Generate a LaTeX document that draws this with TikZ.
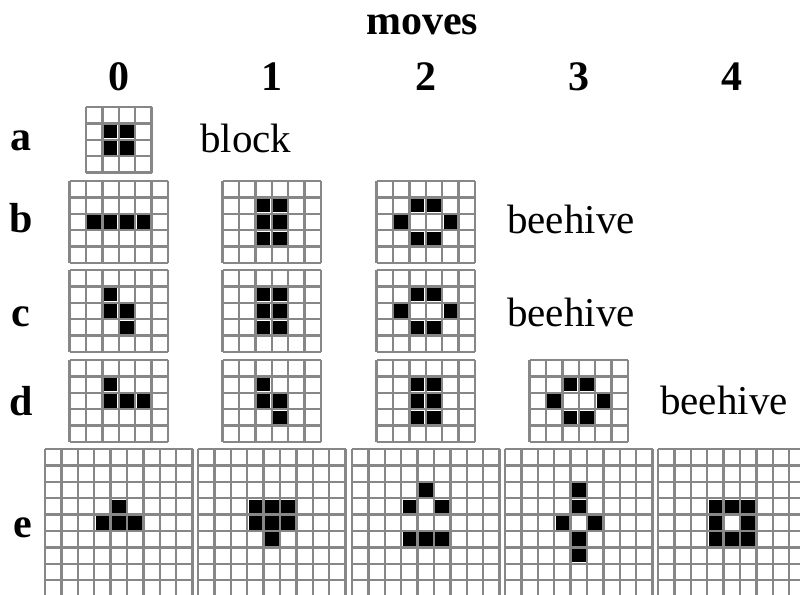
\documentclass[tikz,border=0pt]{standalone}
\usepackage{fontspec}
\setmainfont{Liberation Serif}
\usetikzlibrary{positioning}

\definecolor{gridgray}{RGB}{135,135,135}
\newcommand{\cellsz}{16.4}
% \lifegrid{centre x}{top y}{columns}{rows}{live cells col/row}
\newcommand{\lifegrid}[5]{%
  \pgfmathsetmacro{\gx}{#1-#3*\cellsz/2}
  \foreach \i in {0,...,#3}
    \draw[gridline] (\gx+\i*\cellsz,#2) -- ++(0,#4*\cellsz);
  \foreach \j in {0,...,#4}
    \draw[gridline] (\gx,#2+\j*\cellsz) -- ++(#3*\cellsz,0);
  \foreach \cx/\ry in {#5}
    \fill[cellfill] (\gx+\cx*\cellsz+1.4,#2+\ry*\cellsz+1.4) rectangle ++(\cellsz-2.8,\cellsz-2.8);
}

\begin{document}
\begin{tikzpicture}[x=1pt, y=-1pt,
    gridline/.style={draw=gridgray, line width=2.3pt},
    cellfill/.style={fill=black},
    head/.style={font=\fontsize{42}{42}\selectfont\bfseries, anchor=base, inner sep=0pt},
    patname/.style={font=\fontsize{41}{41}\selectfont, anchor=base west, inner sep=0pt}]

    \useasboundingbox (0,0) rectangle (800,594);
    \clip (0,0) rectangle (800,594);
    \fill[white] (0,0) rectangle (800,594);

    % headings
    \node[head] (moves) at (422,35) {moves};
    \node[head] (m0) at (118.8,90) {0};
    \node[head] (m1) at (271.8,90) {1};
    \node[head] (m2) at (425.8,90) {2};
    \node[head] (m3) at (578.8,90) {3};
    \node[head] (m4) at (731.8,90) {4};

    \node[head] (rowa) at (21,150) {a};
    \node[head] (rowb) at (21,232) {b};
    \node[head] (rowc) at (21,326) {c};
    \node[head] (rowd) at (21,415) {d};
    \node[head] (rowe) at (23,537) {e};

    % row a
    \lifegrid{118.8}{107}{4}{4}{1/1,2/1,1/2,2/2}
    \node[patname] (blk) at (200,152) {block};

    % row b
    \lifegrid{118.8}{181}{6}{5}{1/2,2/2,3/2,4/2}
    \lifegrid{271.8}{181}{6}{5}{2/1,3/1,2/2,3/2,2/3,3/3}
    \lifegrid{425.8}{181}{6}{5}{2/1,3/1,1/2,4/2,2/3,3/3}
    \node[patname] (hiveb) at (507,233) {beehive};

    % row c
    \lifegrid{118.8}{270}{6}{5}{2/1,2/2,3/2,3/3}
    \lifegrid{271.8}{270}{6}{5}{2/1,3/1,2/2,3/2,2/3,3/3}
    \lifegrid{425.8}{270}{6}{5}{2/1,3/1,1/2,4/2,2/3,3/3}
    \node[patname] (hivec) at (507,326) {beehive};

    % row d
    \lifegrid{118.8}{360}{6}{5}{2/1,2/2,3/2,4/2}
    \lifegrid{271.8}{360}{6}{5}{2/1,2/2,3/2,3/3}
    \lifegrid{425.8}{360}{6}{5}{2/1,3/1,2/2,3/2,2/3,3/3}
    \lifegrid{578.8}{360}{6}{5}{2/1,3/1,1/2,4/2,2/3,3/3}
    \node[patname] (hived) at (660,414) {beehive};

    % row e
    \lifegrid{118.8}{449}{9}{9}{4/3,3/4,4/4,5/4}
    \lifegrid{271.8}{449}{9}{9}{3/3,4/3,5/3,3/4,4/4,5/4,4/5}
    \lifegrid{425.8}{449}{9}{9}{4/2,3/3,5/3,3/5,4/5,5/5}
    \lifegrid{578.8}{449}{9}{9}{4/2,4/3,3/4,5/4,4/5,4/6}
    \lifegrid{731.8}{449}{9}{9}{3/3,4/3,5/3,3/4,5/4,3/5,4/5,5/5}
\end{tikzpicture}
\end{document}
